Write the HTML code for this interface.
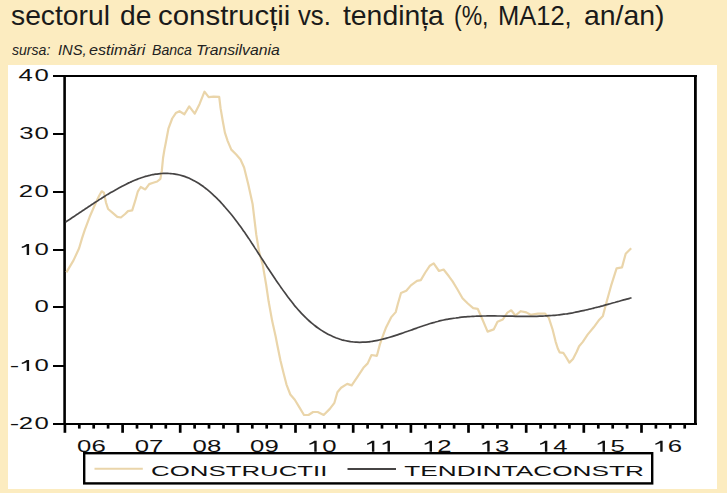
<!DOCTYPE html>
<html><head><meta charset="utf-8">
<style>
html,body{margin:0;padding:0;}
body{width:727px;height:493px;overflow:hidden;background:#FCECC0;position:relative;font-family:"Liberation Sans",sans-serif;}
.t{position:absolute;top:0.7px;font-size:28.3px;line-height:1;color:#1a1a1a;white-space:nowrap;transform-origin:0 0;}
.s{position:absolute;top:41.5px;font-size:15px;line-height:1;font-style:italic;color:#222;white-space:nowrap;transform-origin:0 0;}
svg{position:absolute;left:0;top:0;}
</style></head><body>
<span class="t" style="left:11.40px;transform:scaleX(0.9990)">sectorul</span>
<span class="t" style="left:119.60px;transform:scaleX(0.9966)">de</span>
<span class="t" style="left:158.06px;transform:scaleX(1.0395)">construcții</span>
<span class="t" style="left:298.20px;transform:scaleX(0.9088)">vs.</span>
<span class="t" style="left:342.90px;transform:scaleX(1.0010)">tendința</span>
<span class="t" style="left:454.07px;transform:scaleX(0.8132)">(%,</span>
<span class="t" style="left:498.30px;transform:scaleX(0.9013)">MA12,</span>
<span class="t" style="left:583.90px;transform:scaleX(1.0026)">an/an)</span>
<span class="s" style="left:11.90px;transform:scaleX(0.9375)">sursa:</span>
<span class="s" style="left:57.52px;transform:scaleX(0.9846)">INS,</span>
<span class="s" style="left:88.83px;transform:scaleX(1.0750)">estimări</span>
<span class="s" style="left:151.56px;transform:scaleX(0.9390)">Banca</span>
<span class="s" style="left:195.75px;transform:scaleX(1.0500)">Transilvania</span>
<svg width="727" height="493" viewBox="0 0 727 493">
<rect x="8" y="65" width="709" height="424" fill="#FFFFFF"/>
<g stroke="#000" stroke-width="2" fill="none">
<path d="M63.3,76 H697" stroke-width="2.2"/><path d="M63.3,424 H697" stroke-width="2.0"/><path d="M64.6,74.9 V425" stroke-width="2.6"/><path d="M695.4,74.9 V425" stroke-width="2.8"/>
<line x1="53" y1="76" x2="64.7" y2="76"/><line x1="53" y1="134" x2="64.7" y2="134"/><line x1="53" y1="192" x2="64.7" y2="192"/><line x1="53" y1="250" x2="64.7" y2="250"/><line x1="53" y1="307" x2="64.7" y2="307"/><line x1="53" y1="366" x2="64.7" y2="366"/><line x1="53" y1="424" x2="64.7" y2="424"/><line x1="64.9" y1="424" x2="64.9" y2="432.8" stroke-width="2.7"/><line x1="79.3" y1="424" x2="79.3" y2="428.6" stroke-width="2.7"/><line x1="93.7" y1="424" x2="93.7" y2="428.6" stroke-width="2.7"/><line x1="108.1" y1="424" x2="108.1" y2="428.6" stroke-width="2.7"/><line x1="122.6" y1="424" x2="122.6" y2="432.8" stroke-width="2.7"/><line x1="137.0" y1="424" x2="137.0" y2="428.6" stroke-width="2.7"/><line x1="151.4" y1="424" x2="151.4" y2="428.6" stroke-width="2.7"/><line x1="165.8" y1="424" x2="165.8" y2="428.6" stroke-width="2.7"/><line x1="180.2" y1="424" x2="180.2" y2="432.8" stroke-width="2.7"/><line x1="194.6" y1="424" x2="194.6" y2="428.6" stroke-width="2.7"/><line x1="209.0" y1="424" x2="209.0" y2="428.6" stroke-width="2.7"/><line x1="223.5" y1="424" x2="223.5" y2="428.6" stroke-width="2.7"/><line x1="237.9" y1="424" x2="237.9" y2="432.8" stroke-width="2.7"/><line x1="252.3" y1="424" x2="252.3" y2="428.6" stroke-width="2.7"/><line x1="266.7" y1="424" x2="266.7" y2="428.6" stroke-width="2.7"/><line x1="281.1" y1="424" x2="281.1" y2="428.6" stroke-width="2.7"/><line x1="295.5" y1="424" x2="295.5" y2="432.8" stroke-width="2.7"/><line x1="310.0" y1="424" x2="310.0" y2="428.6" stroke-width="2.7"/><line x1="324.4" y1="424" x2="324.4" y2="428.6" stroke-width="2.7"/><line x1="338.8" y1="424" x2="338.8" y2="428.6" stroke-width="2.7"/><line x1="353.2" y1="424" x2="353.2" y2="432.8" stroke-width="2.7"/><line x1="367.6" y1="424" x2="367.6" y2="428.6" stroke-width="2.7"/><line x1="382.0" y1="424" x2="382.0" y2="428.6" stroke-width="2.7"/><line x1="396.4" y1="424" x2="396.4" y2="428.6" stroke-width="2.7"/><line x1="410.9" y1="424" x2="410.9" y2="432.8" stroke-width="2.7"/><line x1="425.3" y1="424" x2="425.3" y2="428.6" stroke-width="2.7"/><line x1="439.7" y1="424" x2="439.7" y2="428.6" stroke-width="2.7"/><line x1="454.1" y1="424" x2="454.1" y2="428.6" stroke-width="2.7"/><line x1="468.5" y1="424" x2="468.5" y2="432.8" stroke-width="2.7"/><line x1="482.9" y1="424" x2="482.9" y2="428.6" stroke-width="2.7"/><line x1="497.4" y1="424" x2="497.4" y2="428.6" stroke-width="2.7"/><line x1="511.8" y1="424" x2="511.8" y2="428.6" stroke-width="2.7"/><line x1="526.2" y1="424" x2="526.2" y2="432.8" stroke-width="2.7"/><line x1="540.6" y1="424" x2="540.6" y2="428.6" stroke-width="2.7"/><line x1="555.0" y1="424" x2="555.0" y2="428.6" stroke-width="2.7"/><line x1="569.4" y1="424" x2="569.4" y2="428.6" stroke-width="2.7"/><line x1="583.8" y1="424" x2="583.8" y2="432.8" stroke-width="2.7"/><line x1="598.3" y1="424" x2="598.3" y2="428.6" stroke-width="2.7"/><line x1="612.7" y1="424" x2="612.7" y2="428.6" stroke-width="2.7"/><line x1="627.1" y1="424" x2="627.1" y2="428.6" stroke-width="2.7"/><line x1="641.5" y1="424" x2="641.5" y2="432.8" stroke-width="2.7"/><line x1="655.9" y1="424" x2="655.9" y2="428.6" stroke-width="2.7"/><line x1="670.3" y1="424" x2="670.3" y2="428.6" stroke-width="2.7"/><line x1="684.7" y1="424" x2="684.7" y2="428.6" stroke-width="2.7"/>
</g>
<polyline points="66.4,272.4 73.5,260.4 79.1,248.3 82.0,238.4 84.8,229.9 89.7,216.8 94.6,205.5 98.9,196.2 101.7,191.3 103.9,192.7 106.0,202.6 108.1,209.0 112.4,212.6 117.3,216.8 120.9,217.5 125.1,214.0 128.0,211.1 132.2,210.4 135.1,201.2 137.9,191.3 140.7,187.0 145.3,189.4 149.2,184.1 153.2,182.8 157.2,181.5 160.4,178.8 161.8,170.9 163.1,157.7 164.4,149.8 165.7,143.2 168.5,128.3 172.2,118.5 175.8,113.1 179.5,111.2 184.4,114.3 189.2,106.4 194.7,113.7 199.6,103.9 204.5,91.7 208.7,97.2 213.6,96.6 219.2,96.8 220.6,108.4 222.8,121.2 224.9,132.6 227.7,141.1 231.3,149.6 236.2,154.5 240.5,159.5 244.1,167.5 246.2,176.0 248.3,184.5 252.6,204.0 256.3,234.9 259.1,251.9 262.7,264.6 266.2,285.0 268.6,301.3 272.2,321.1 275.7,336.7 277.3,345.0 280.4,360.2 283.4,372.4 286.5,384.6 290.3,394.5 294.8,399.8 299.4,407.4 304.0,415.0 308.5,415.0 313.1,412.0 317.7,412.0 323.7,415.0 329.8,408.9 334.4,402.8 337.4,392.2 341.1,387.7 347.2,383.9 351.7,385.4 357.8,376.3 363.9,367.2 367.7,363.4 371.5,355.0 376.9,355.8 379.9,344.4 383.7,333.7 385.8,328.1 391.1,317.4 395.7,312.1 397.9,303.7 401.0,293.0 406.3,290.8 410.9,285.4 417.0,280.9 420.8,280.1 425.3,272.5 429.9,265.7 433.7,263.4 439.0,271.0 443.6,269.5 448.9,276.3 452.6,281.4 457.2,289.0 462.5,298.2 467.8,303.5 473.2,308.1 477.7,308.8 481.5,317.2 487.6,331.6 493.7,329.4 497.5,321.8 502.8,319.5 507.4,312.6 511.2,310.3 515.4,315.5 520.8,311.2 526.3,312.4 530.6,314.8 537.9,313.6 545.2,313.6 548.8,317.9 552.6,329.5 555.6,341.6 557.8,348.5 559.6,352.3 563.3,352.9 565.7,356.5 569.4,362.6 573.0,359.0 576.7,351.7 579.1,346.2 582.8,341.9 587.6,334.6 593.7,327.3 598.6,320.6 602.9,315.9 606.5,302.2 611.1,285.7 616.6,268.3 622.0,267.4 625.7,253.7 631.2,248.2" fill="none" stroke="#EAD5AA" stroke-width="2.2" stroke-linejoin="round"/>
<path d="M65.7,221.9 C66.2,221.6 67.7,220.6 68.7,220.0 C69.7,219.4 70.7,218.7 71.7,218.0 C72.7,217.4 73.7,216.7 74.7,216.1 C75.7,215.4 76.7,214.7 77.7,214.1 C78.7,213.4 79.7,212.7 80.7,212.1 C81.7,211.4 82.7,210.7 83.7,210.1 C84.7,209.4 85.7,208.7 86.7,208.1 C87.7,207.4 88.7,206.7 89.7,206.1 C90.7,205.4 91.7,204.7 92.7,204.1 C93.7,203.4 94.7,202.7 95.7,202.1 C96.7,201.4 97.7,200.8 98.7,200.1 C99.7,199.5 100.7,198.8 101.7,198.2 C102.7,197.6 103.7,196.9 104.7,196.3 C105.7,195.7 106.7,195.1 107.7,194.4 C108.7,193.8 109.7,193.2 110.7,192.6 C111.7,192.0 112.7,191.4 113.7,190.9 C114.7,190.3 115.7,189.7 116.7,189.2 C117.7,188.6 118.7,188.0 119.7,187.5 C120.7,187.0 121.7,186.4 122.7,185.9 C123.7,185.4 124.7,184.9 125.7,184.4 C126.7,183.9 127.7,183.4 128.7,182.9 C129.7,182.5 130.7,182.0 131.7,181.6 C132.7,181.1 133.7,180.7 134.7,180.3 C135.7,179.9 136.7,179.5 137.7,179.1 C138.7,178.7 139.7,178.4 140.7,178.0 C141.7,177.7 142.7,177.3 143.7,177.0 C144.7,176.7 145.7,176.4 146.7,176.2 C147.7,175.9 148.7,175.6 149.7,175.4 C150.7,175.1 151.7,174.9 152.7,174.7 C153.7,174.5 154.7,174.4 155.7,174.2 C156.7,174.0 157.7,173.9 158.7,173.8 C159.7,173.7 160.7,173.6 161.7,173.5 C162.7,173.5 163.7,173.4 164.7,173.4 C165.7,173.4 166.7,173.4 167.7,173.4 C168.7,173.5 169.7,173.5 170.7,173.6 C171.7,173.7 172.7,173.8 173.7,173.9 C174.7,174.1 175.7,174.2 176.7,174.4 C177.7,174.6 178.7,174.8 179.7,175.0 C180.7,175.3 181.7,175.6 182.7,175.9 C183.7,176.2 184.7,176.5 185.7,176.9 C186.7,177.2 187.7,177.6 188.7,178.0 C189.7,178.5 190.7,178.9 191.7,179.4 C192.7,179.9 193.7,180.4 194.7,181.0 C195.7,181.5 196.7,182.1 197.7,182.7 C198.7,183.3 199.7,184.0 200.7,184.7 C201.7,185.4 202.7,186.1 203.7,186.8 C204.7,187.6 205.7,188.3 206.7,189.1 C207.7,189.9 208.7,190.8 209.7,191.6 C210.7,192.5 211.7,193.4 212.7,194.3 C213.7,195.2 214.7,196.2 215.7,197.2 C216.7,198.1 217.7,199.1 218.7,200.2 C219.7,201.2 220.7,202.3 221.7,203.4 C222.7,204.4 223.7,205.6 224.7,206.7 C225.7,207.8 226.7,209.0 227.7,210.2 C228.7,211.4 229.7,212.6 230.7,213.8 C231.7,215.0 232.7,216.3 233.7,217.6 C234.7,218.9 235.7,220.2 236.7,221.5 C237.7,222.8 238.7,224.2 239.7,225.5 C240.7,226.9 241.7,228.3 242.7,229.7 C243.7,231.1 244.7,232.6 245.7,234.0 C246.7,235.5 247.7,237.0 248.7,238.4 C249.7,239.9 250.7,241.4 251.7,243.0 C252.7,244.5 253.7,246.0 254.7,247.6 C255.7,249.1 256.7,250.6 257.7,252.2 C258.7,253.7 259.7,255.3 260.7,256.9 C261.7,258.4 262.7,260.0 263.7,261.5 C264.7,263.1 265.7,264.6 266.7,266.2 C267.7,267.7 268.7,269.3 269.7,270.8 C270.7,272.3 271.7,273.8 272.7,275.3 C273.7,276.8 274.7,278.3 275.7,279.8 C276.7,281.2 277.7,282.7 278.7,284.1 C279.7,285.6 280.7,287.0 281.7,288.4 C282.7,289.9 283.7,291.3 284.7,292.6 C285.7,294.0 286.7,295.4 287.7,296.7 C288.7,298.0 289.7,299.4 290.7,300.6 C291.7,301.9 292.7,303.2 293.7,304.4 C294.7,305.7 295.7,306.9 296.7,308.0 C297.7,309.2 298.7,310.3 299.7,311.4 C300.7,312.5 301.7,313.6 302.7,314.6 C303.7,315.7 304.7,316.7 305.7,317.7 C306.7,318.6 307.7,319.6 308.7,320.5 C309.7,321.4 310.7,322.3 311.7,323.1 C312.7,323.9 313.7,324.8 314.7,325.5 C315.7,326.3 316.7,327.1 317.7,327.8 C318.7,328.5 319.7,329.2 320.7,329.9 C321.7,330.6 322.7,331.2 323.7,331.8 C324.7,332.4 325.7,333.0 326.7,333.5 C327.7,334.1 328.7,334.6 329.7,335.1 C330.7,335.6 331.7,336.1 332.7,336.5 C333.7,337.0 334.7,337.4 335.7,337.8 C336.7,338.1 337.7,338.5 338.7,338.8 C339.7,339.2 340.7,339.5 341.7,339.8 C342.7,340.0 343.7,340.3 344.7,340.5 C345.7,340.8 346.7,341.0 347.7,341.2 C348.7,341.4 349.7,341.5 350.7,341.7 C351.7,341.8 352.7,341.9 353.7,342.0 C354.7,342.1 355.7,342.2 356.7,342.2 C357.7,342.3 358.7,342.3 359.7,342.3 C360.7,342.3 361.7,342.3 362.7,342.2 C363.7,342.2 364.7,342.1 365.7,342.1 C366.7,342.0 367.7,341.9 368.7,341.8 C369.7,341.7 370.7,341.5 371.7,341.4 C372.7,341.2 373.7,341.1 374.7,340.9 C375.7,340.7 376.7,340.5 377.7,340.3 C378.7,340.1 379.7,339.9 380.7,339.7 C381.7,339.4 382.7,339.2 383.7,338.9 C384.7,338.7 385.7,338.4 386.7,338.1 C387.7,337.9 388.7,337.6 389.7,337.3 C390.7,337.0 391.7,336.7 392.7,336.4 C393.7,336.1 394.7,335.7 395.7,335.4 C396.7,335.1 397.7,334.8 398.7,334.4 C399.7,334.1 400.7,333.7 401.7,333.4 C402.7,333.1 403.7,332.7 404.7,332.3 C405.7,332.0 406.7,331.6 407.7,331.3 C408.7,330.9 409.7,330.6 410.7,330.2 C411.7,329.9 412.7,329.5 413.7,329.1 C414.7,328.8 415.7,328.4 416.7,328.1 C417.7,327.7 418.7,327.4 419.7,327.0 C420.7,326.7 421.7,326.3 422.7,326.0 C423.7,325.7 424.7,325.3 425.7,325.0 C426.7,324.7 427.7,324.4 428.7,324.0 C429.7,323.7 430.7,323.4 431.7,323.1 C432.7,322.8 433.7,322.5 434.7,322.3 C435.7,322.0 436.7,321.7 437.7,321.5 C438.7,321.2 439.7,320.9 440.7,320.7 C441.7,320.5 442.7,320.3 443.7,320.0 C444.7,319.8 445.7,319.6 446.7,319.4 C447.7,319.2 448.7,319.1 449.7,318.9 C450.7,318.7 451.7,318.5 452.7,318.4 C453.7,318.2 454.7,318.1 455.7,318.0 C456.7,317.8 457.7,317.7 458.7,317.6 C459.7,317.4 460.7,317.3 461.7,317.2 C462.7,317.1 463.7,317.0 464.7,316.9 C465.7,316.9 466.7,316.8 467.7,316.7 C468.7,316.6 469.7,316.6 470.7,316.5 C471.7,316.4 472.7,316.4 473.7,316.3 C474.7,316.3 475.7,316.2 476.7,316.2 C477.7,316.2 478.7,316.1 479.7,316.1 C480.7,316.1 481.7,316.0 482.7,316.0 C483.7,316.0 484.7,316.0 485.7,316.0 C486.7,316.0 487.7,315.9 488.7,315.9 C489.7,315.9 490.7,315.9 491.7,315.9 C492.7,315.9 493.7,315.9 494.7,315.9 C495.7,316.0 496.7,316.0 497.7,316.0 C498.7,316.0 499.7,316.0 500.7,316.0 C501.7,316.0 502.7,316.0 503.7,316.1 C504.7,316.1 505.7,316.1 506.7,316.1 C507.7,316.1 508.7,316.1 509.7,316.2 C510.7,316.2 511.7,316.2 512.7,316.2 C513.7,316.2 514.7,316.2 515.7,316.3 C516.7,316.3 517.7,316.3 518.7,316.3 C519.7,316.3 520.7,316.3 521.7,316.3 C522.7,316.3 523.7,316.4 524.7,316.4 C525.7,316.4 526.7,316.4 527.7,316.4 C528.7,316.4 529.7,316.4 530.7,316.4 C531.7,316.3 532.7,316.3 533.7,316.3 C534.7,316.3 535.7,316.3 536.7,316.3 C537.7,316.2 538.7,316.2 539.7,316.2 C540.7,316.2 541.7,316.1 542.7,316.1 C543.7,316.0 544.7,316.0 545.7,315.9 C546.7,315.9 547.7,315.8 548.7,315.7 C549.7,315.7 550.7,315.6 551.7,315.5 C552.7,315.4 553.7,315.4 554.7,315.3 C555.7,315.2 556.7,315.1 557.7,315.0 C558.7,314.9 559.7,314.7 560.7,314.6 C561.7,314.5 562.7,314.4 563.7,314.2 C564.7,314.1 565.7,313.9 566.7,313.8 C567.7,313.6 568.7,313.5 569.7,313.3 C570.7,313.1 571.7,312.9 572.7,312.8 C573.7,312.6 574.7,312.4 575.7,312.2 C576.7,312.0 577.7,311.8 578.7,311.6 C579.7,311.4 580.7,311.2 581.7,310.9 C582.7,310.7 583.7,310.5 584.7,310.3 C585.7,310.0 586.7,309.8 587.7,309.6 C588.7,309.3 589.7,309.1 590.7,308.9 C591.7,308.6 592.7,308.4 593.7,308.1 C594.7,307.9 595.7,307.6 596.7,307.3 C597.7,307.1 598.7,306.8 599.7,306.6 C600.7,306.3 601.7,306.0 602.7,305.8 C603.7,305.5 604.7,305.2 605.7,304.9 C606.7,304.7 607.7,304.4 608.7,304.1 C609.7,303.8 610.7,303.6 611.7,303.3 C612.7,303.0 613.7,302.7 614.7,302.5 C615.7,302.2 616.7,301.9 617.7,301.6 C618.7,301.3 619.7,301.1 620.7,300.8 C621.7,300.5 622.7,300.2 623.7,299.9 C624.7,299.7 625.7,299.4 626.7,299.1 C627.7,298.8 628.9,298.5 629.7,298.3 C630.5,298.1 631.2,297.9 631.5,297.8" fill="none" stroke="#464444" stroke-width="1.7"/>
<g style="font-family:'Liberation Sans',sans-serif;font-size:15.85px" fill="#111">
<text transform="translate(18.56,81.00) scale(1.625,1)">4</text><text transform="translate(34.57,81.00) scale(1.625,1)">0</text><text transform="translate(19.37,139.00) scale(1.625,1)">3</text><text transform="translate(34.57,139.00) scale(1.625,1)">0</text><text transform="translate(18.81,197.00) scale(1.625,1)">2</text><text transform="translate(34.57,197.00) scale(1.625,1)">0</text><path transform="translate(21.80,255.00)" d="M4.9,-11.1 L7.3,-11.1 L7.3,0 L4.9,0 L4.9,-8.8 C3.7,-8.0 1.8,-7.3 0,-7.0 L0,-8.4 C1.9,-8.9 3.7,-9.9 4.9,-11.1 Z"/><text transform="translate(34.57,255.00) scale(1.625,1)">0</text><text transform="translate(34.57,312.00) scale(1.625,1)">0</text><path transform="translate(21.80,371.00)" d="M4.9,-11.1 L7.3,-11.1 L7.3,0 L4.9,0 L4.9,-8.8 C3.7,-8.0 1.8,-7.3 0,-7.0 L0,-8.4 C1.9,-8.9 3.7,-9.9 4.9,-11.1 Z"/><text transform="translate(34.57,371.00) scale(1.625,1)">0</text><text transform="translate(9.82,371.00) scale(1.8,1)">-</text><text transform="translate(18.81,429.00) scale(1.625,1)">2</text><text transform="translate(34.57,429.00) scale(1.625,1)">0</text><text transform="translate(9.82,429.00) scale(1.8,1)">-</text>
<text transform="translate(77.10,451.80) scale(1.625,1)">0</text><text transform="translate(91.44,451.80) scale(1.625,1)">6</text><text transform="translate(134.76,451.80) scale(1.625,1)">0</text><text transform="translate(149.10,451.80) scale(1.625,1)">7</text><text transform="translate(192.42,451.80) scale(1.625,1)">0</text><text transform="translate(206.89,451.80) scale(1.625,1)">8</text><text transform="translate(250.08,451.80) scale(1.625,1)">0</text><text transform="translate(264.55,451.80) scale(1.625,1)">9</text><path transform="translate(309.37,451.80)" d="M4.9,-11.1 L7.3,-11.1 L7.3,0 L4.9,0 L4.9,-8.8 C3.7,-8.0 1.8,-7.3 0,-7.0 L0,-8.4 C1.9,-8.9 3.7,-9.9 4.9,-11.1 Z"/><text transform="translate(322.14,451.80) scale(1.625,1)">0</text><path transform="translate(367.03,451.80)" d="M4.9,-11.1 L7.3,-11.1 L7.3,0 L4.9,0 L4.9,-8.8 C3.7,-8.0 1.8,-7.3 0,-7.0 L0,-8.4 C1.9,-8.9 3.7,-9.9 4.9,-11.1 Z"/><path transform="translate(382.63,451.80)" d="M4.9,-11.1 L7.3,-11.1 L7.3,0 L4.9,0 L4.9,-8.8 C3.7,-8.0 1.8,-7.3 0,-7.0 L0,-8.4 C1.9,-8.9 3.7,-9.9 4.9,-11.1 Z"/><path transform="translate(424.69,451.80)" d="M4.9,-11.1 L7.3,-11.1 L7.3,0 L4.9,0 L4.9,-8.8 C3.7,-8.0 1.8,-7.3 0,-7.0 L0,-8.4 C1.9,-8.9 3.7,-9.9 4.9,-11.1 Z"/><text transform="translate(437.20,451.80) scale(1.625,1)">2</text><path transform="translate(482.35,451.80)" d="M4.9,-11.1 L7.3,-11.1 L7.3,0 L4.9,0 L4.9,-8.8 C3.7,-8.0 1.8,-7.3 0,-7.0 L0,-8.4 C1.9,-8.9 3.7,-9.9 4.9,-11.1 Z"/><text transform="translate(495.12,451.80) scale(1.625,1)">3</text><path transform="translate(540.01,451.80)" d="M4.9,-11.1 L7.3,-11.1 L7.3,0 L4.9,0 L4.9,-8.8 C3.7,-8.0 1.8,-7.3 0,-7.0 L0,-8.4 C1.9,-8.9 3.7,-9.9 4.9,-11.1 Z"/><text transform="translate(553.17,451.80) scale(1.625,1)">4</text><path transform="translate(597.67,451.80)" d="M4.9,-11.1 L7.3,-11.1 L7.3,0 L4.9,0 L4.9,-8.8 C3.7,-8.0 1.8,-7.3 0,-7.0 L0,-8.4 C1.9,-8.9 3.7,-9.9 4.9,-11.1 Z"/><text transform="translate(610.44,451.80) scale(1.625,1)">5</text><path transform="translate(655.33,451.80)" d="M4.9,-11.1 L7.3,-11.1 L7.3,0 L4.9,0 L4.9,-8.8 C3.7,-8.0 1.8,-7.3 0,-7.0 L0,-8.4 C1.9,-8.9 3.7,-9.9 4.9,-11.1 Z"/><text transform="translate(667.84,451.80) scale(1.625,1)">6</text>
</g>
<rect x="84.2" y="453.2" width="568" height="30.2" fill="#fff" stroke="#000" stroke-width="2.4"/>
<line x1="94.5" y1="468.8" x2="142.8" y2="468.8" stroke="#EAD5AA" stroke-width="2.0"/>
<line x1="347.5" y1="469" x2="396" y2="469" stroke="#464444" stroke-width="2"/>
<g style="font-family:'Liberation Sans',sans-serif;font-size:14.9px" fill="#111">
<text x="151.1" y="475.6" textLength="176.3" lengthAdjust="spacingAndGlyphs">CONSTRUCTII</text>
<text x="404.3" y="475.6" textLength="239.6" lengthAdjust="spacingAndGlyphs">TENDINTACONSTR</text>
</g>
</svg>
</body></html>
